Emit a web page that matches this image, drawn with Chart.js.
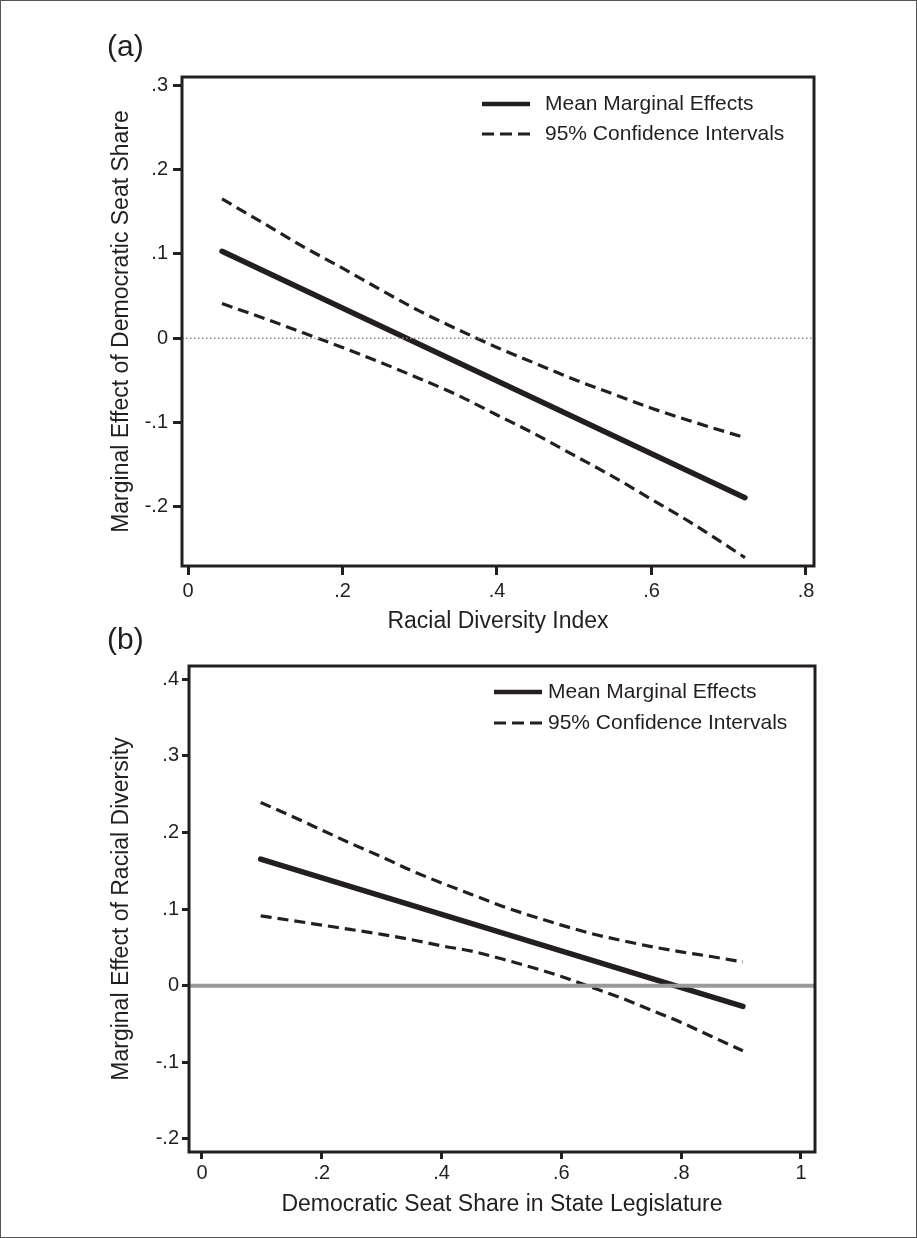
<!DOCTYPE html>
<html>
<head>
<meta charset="utf-8">
<script src="https://cdn.jsdelivr.net/npm/chart.js@4/dist/chart.umd.min.js"></script>
<style>
	body { margin: 0; background: #fff; }
	#page { position: relative; width: 917px; height: 1238px; border: 1px solid #555; box-sizing: border-box; overflow: hidden; }
	canvas { position: absolute; left: -1px; }
</style>
</head>
<body>
<div id="page">
	<canvas id="chartA" width="917" height="640" style="top:-1px"></canvas>
	<canvas id="chartB" width="917" height="638" style="top:599px"></canvas>
</div>
<script>
// panel (a): marginal effect of democratic seat share by racial diversity
const aMeanX = [0.044, 0.721];
const aMean = [0.103, -0.189];
const aX = [0.044, 0.1, 0.15, 0.2, 0.25, 0.3, 0.35, 0.4, 0.45, 0.5, 0.55, 0.6, 0.65, 0.721];
const aUpper = [0.165, 0.135, 0.108, 0.083, 0.057, 0.032, 0.010, -0.011, -0.030, -0.049, -0.066, -0.083, -0.098, -0.118];
const aLower = [0.041, 0.023, 0.006, -0.011, -0.029, -0.048, -0.068, -0.091, -0.114, -0.139, -0.164, -0.191, -0.218, -0.260];
const aXTicks = [0, 0.2, 0.4, 0.6, 0.8];
const aYTicks = [-0.2, -0.1, 0, 0.1, 0.2, 0.3];

// panel (b): marginal effect of racial diversity by democratic seat share
const bMeanX = [0.098, 0.903];
const bMean = [0.165, -0.027];
const bX = [0.098, 0.15, 0.2, 0.25, 0.3, 0.35, 0.4, 0.45, 0.5, 0.55, 0.6, 0.65, 0.7, 0.75, 0.8, 0.85, 0.903];
const bUpper = [0.239, 0.221, 0.203, 0.185, 0.168, 0.150, 0.134, 0.119, 0.104, 0.091, 0.079, 0.068, 0.059, 0.051, 0.044, 0.038, 0.031];
const bLower = [0.091, 0.085, 0.079, 0.073, 0.067, 0.060, 0.052, 0.045, 0.035, 0.024, 0.012, -0.002, -0.016, -0.032, -0.048, -0.066, -0.085];
const bXTicks = [0, 0.2, 0.4, 0.6, 0.8, 1];
const bYTicks = [-0.2, -0.1, 0, 0.1, 0.2, 0.3, 0.4];

const legendLabels = ["Mean Marginal Effects", "95% Confidence Intervals"];

const INK = '#231f20';
const FONT = '"Liberation Sans", Arial, Helvetica, sans-serif';

function fmtTick(v) {
	if (Math.abs(v) < 1e-9) return '0';
	const s = String(Math.round(v * 10) / 10);
	return s.replace('0.', '.');
}

function pts(xs, ys) {
	return xs.map((x, i) => ({ x: x, y: ys[i] }));
}

// frame round the plot, panel letter and legend
const decorPlugin = {
	id: 'decor',
	afterDraw(chart, args, o) {
		const ctx = chart.ctx;
		const a = chart.chartArea;
		ctx.save();
		ctx.strokeStyle = INK;
		ctx.lineWidth = 3;
		ctx.setLineDash([]);
		ctx.strokeRect(a.left, a.top, a.right - a.left, a.bottom - a.top);

		ctx.fillStyle = INK;
		ctx.font = '30px ' + FONT;
		ctx.textBaseline = 'alphabetic';
		ctx.textAlign = 'left';
		ctx.fillText(o.letter, o.letterX, o.letterY);

		ctx.font = '21px ' + FONT;
		ctx.textBaseline = 'middle';
		const items = [{ w: 4.5, dash: [] }, { w: 3, dash: [12, 6] }];
		items.forEach((it, i) => {
			const y = o.legendY + i * o.legendGap;
			ctx.lineWidth = it.w;
			ctx.setLineDash(it.dash);
			ctx.beginPath();
			ctx.moveTo(o.sampleX, y);
			ctx.lineTo(o.sampleX + 48, y);
			ctx.stroke();
			ctx.fillText(legendLabels[i], o.textX, y);
		});
		ctx.restore();
	}
};

function makeChart(id, d) {
	const ctx = document.getElementById(id).getContext('2d');
	return new Chart(ctx, {
		type: 'line',
		data: {
			datasets: [{
				data: [{ x: d.xMin, y: 0 }, { x: d.xMax, y: 0 }],
				borderColor: d.zeroColor,
				borderWidth: d.zeroWidth,
				borderDash: d.zeroDash,
				pointRadius: 0
			}, {
				data: pts(d.meanX, d.mean),
				borderColor: INK,
				borderWidth: 5.5,
				borderCapStyle: 'round',
				pointRadius: 0
			}, {
				data: pts(d.x, d.upper),
				borderColor: INK,
				borderWidth: 3.2,
				borderDash: [11, 6],
				cubicInterpolationMode: 'monotone',
				pointRadius: 0
			}, {
				data: pts(d.x, d.lower),
				borderColor: INK,
				borderWidth: 3.2,
				borderDash: [11, 6],
				cubicInterpolationMode: 'monotone',
				pointRadius: 0
			}]
		},
		options: {
			responsive: false,
			animation: false,
			devicePixelRatio: 1,
			layout: { padding: d.padding },
			plugins: {
				legend: { display: false },
				tooltip: { enabled: false },
				decor: d.decor
			},
			scales: {
				x: {
					type: 'linear',
					min: d.xMin,
					max: d.xMax,
					border: { display: false },
					grid: { drawOnChartArea: false, tickLength: d.tickLen, tickWidth: 3, tickColor: INK },
					ticks: { color: INK, font: { family: FONT, size: 20 }, padding: d.xPad, maxRotation: 0, callback: fmtTick },
					afterBuildTicks: s => { s.ticks = d.xTicks.map(v => ({ value: v })); },
					afterFit: s => { s.height = d.xHeight; },
					title: { display: true, text: d.xTitle, color: INK, font: { family: FONT, size: 23 }, padding: 0 }
				},
				y: {
					type: 'linear',
					min: d.yMin,
					max: d.yMax,
					border: { display: false },
					grid: { drawOnChartArea: false, tickLength: d.tickLen, tickWidth: 3, tickColor: INK },
					ticks: { color: INK, font: { family: FONT, size: 20 }, padding: d.yPad, callback: fmtTick },
					afterBuildTicks: s => { s.ticks = d.yTicks.map(v => ({ value: v })); },
					afterFit: s => { s.width = d.yWidth; },
					title: { display: true, text: d.yTitle, color: INK, font: { family: FONT, size: 23 }, padding: 0 }
				}
			}
		},
		plugins: [decorPlugin]
	});
}

makeChart('chartA', {
	meanX: aMeanX, mean: aMean, x: aX, upper: aUpper, lower: aLower,
	xTicks: aXTicks, yTicks: aYTicks,
	xMin: -0.0078, xMax: 0.8104, yMin: -0.27, yMax: 0.3095,
	zeroColor: '#8a8a8a', zeroWidth: 1.5, zeroDash: [1.5, 2.5],
	padding: { left: 108, top: 77, right: 103, bottom: 5 },
	yWidth: 74, xHeight: 69, tickLen: 9, xPad: 4, yPad: 5,
	xTitle: 'Racial Diversity Index',
	yTitle: 'Marginal Effect of Democratic Seat Share',
	decor: { letter: '(a)', letterX: 107, letterY: 56, sampleX: 482, textX: 545, legendY: 104, legendGap: 30 }
});

makeChart('chartB', {
	meanX: bMeanX, mean: bMean, x: bX, upper: bUpper, lower: bLower,
	xTicks: bXTicks, yTicks: bYTicks,
	xMin: -0.0217, xMax: 1.0234, yMin: -0.217, yMax: 0.417,
	zeroColor: '#9a9a9a', zeroWidth: 4, zeroDash: [],
	padding: { left: 108, top: 66, right: 102, bottom: 20 },
	yWidth: 81, xHeight: 66, tickLen: 7, xPad: 2, yPad: 3,
	xTitle: 'Democratic Seat Share in State Legislature',
	yTitle: 'Marginal Effect of Racial Diversity',
	decor: { letter: '(b)', letterX: 107, letterY: 49, sampleX: 494, textX: 548, legendY: 92, legendGap: 31 }
});
</script>
</body>
</html>
